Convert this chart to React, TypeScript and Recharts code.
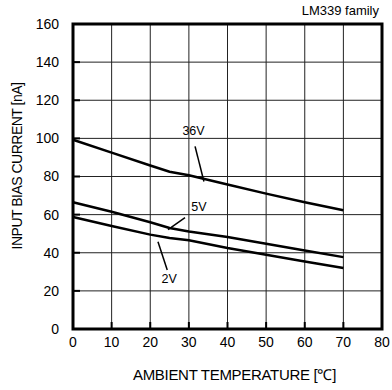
import { LineChart, Line, XAxis, YAxis, CartesianGrid, ReferenceArea, ReferenceLine, ReferenceDot } from "recharts";

const temps = [0, 10, 20, 25, 30, 40, 50, 60, 70];
const bias36V = [99.3, 92.5, 85.8, 82.5, 80.7, 75.8, 71, 66.5, 62.3];
const bias5V = [66.5, 61.5, 56, 53, 51.2, 48.3, 44.7, 41.2, 37.7];
const bias2V = [58.8, 54, 49.5, 47.7, 46.5, 42.5, 39, 35.4, 32];

const xTicks = [0, 10, 20, 30, 40, 50, 60, 70, 80];
const yTicks = [0, 20, 40, 60, 80, 100, 120, 140, 160];

// curve name, label position, pointer from -> to
const notes = [
  { name: "36V", lx: 31.2, ly: 104, x1: 31.6, y1: 95.8, x2: 33.9, y2: 77.4 },
  { name: "5V", lx: 32.6, ly: 64.2, x1: 29, y1: 58.4, x2: 24.6, y2: 52.1 },
  { name: "2V", lx: 24.9, ly: 26.3, x1: 22, y1: 45.8, x2: 24.4, y2: 31 },
];

const data = temps.map((t, i) => ({ t, v36: bias36V[i], v5: bias5V[i], v2: bias2V[i] }));

const font = "'Liberation Sans', Arial, sans-serif";
const tickStyle = { fontSize: 14, fill: "#000", fontFamily: font };

export default function App() {
  return (
    <div style={{ position: "absolute", left: 0, top: 0, width: 392, height: 390, background: "#fff", fontFamily: font }}>
      <div style={{ position: "absolute", right: 13, top: 3, fontSize: 13, color: "#000" }}>LM339 family</div>
      <LineChart width={392} height={390} data={data} margin={{ top: 24, right: 10, bottom: 0, left: 0 }}>
        <CartesianGrid stroke="#222" strokeWidth={1} horizontalValues={yTicks} verticalValues={xTicks} />
        <XAxis
          dataKey="t"
          type="number"
          domain={[0, 80]}
          ticks={xTicks}
          height={61}
          axisLine={false}
          tickLine={{ stroke: "#000", strokeWidth: 2 }}
          tickSize={-7}
          tickMargin={15}
          tick={tickStyle}
          label={{
            value: "AMBIENT TEMPERATURE  [℃]",
            position: "insideBottom",
            offset: 10,
            dx: 7,
            style: { fontSize: 15, fill: "#000", fontFamily: font, letterSpacing: -0.3 },
          }}
        />
        <YAxis
          type="number"
          domain={[0, 160]}
          ticks={yTicks}
          width={73}
          axisLine={false}
          tickLine={{ stroke: "#000", strokeWidth: 2 }}
          tickSize={-7}
          tickMargin={21}
          tick={tickStyle}
          label={{
            content: () => (
              <text
                x={17}
                y={166}
                transform="rotate(-90 17 166)"
                textAnchor="middle"
                dominantBaseline="central"
                fontSize={14}
                letterSpacing={-0.5}
                fontFamily={font}
                fill="#000"
              >
                INPUT BIAS CURRENT [nA]
              </text>
            ),
          }}
        />
        <ReferenceArea x1={0} x2={80} y1={0} y2={160} fill="none" stroke="#000" strokeWidth={3} ifOverflow="visible" />
        <Line dataKey="v36" stroke="#000" strokeWidth={2.5} dot={false} isAnimationActive={false} />
        <Line dataKey="v5" stroke="#000" strokeWidth={2.5} dot={false} isAnimationActive={false} />
        <Line dataKey="v2" stroke="#000" strokeWidth={2.5} dot={false} isAnimationActive={false} />
        {notes.map((n) => (
          <ReferenceLine
            key={n.name + "-ptr"}
            segment={[
              { x: n.x1, y: n.y1 },
              { x: n.x2, y: n.y2 },
            ]}
            stroke="#000"
            strokeWidth={1.5}
          />
        ))}
        {notes.map((n) => (
          <ReferenceDot
            key={n.name}
            x={n.lx}
            y={n.ly}
            r={0}
            fill="none"
            stroke="none"
            label={{ value: n.name, position: "center", style: { fontSize: 12.5, fill: "#000", fontFamily: font } }}
          />
        ))}
      </LineChart>
    </div>
  );
}
